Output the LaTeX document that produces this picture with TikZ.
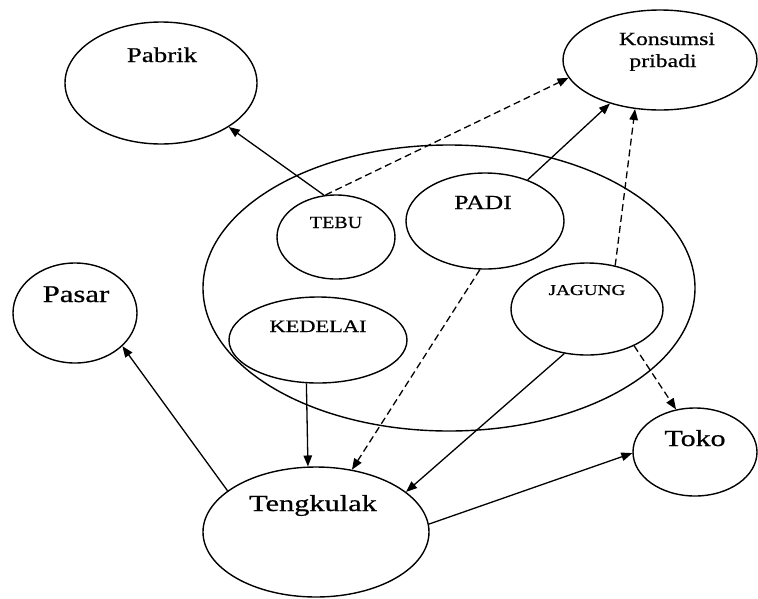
\documentclass[tikz,border=0pt]{standalone}
\usepackage{fontspec}
\setmainfont{Liberation Serif}
\newfontfamily\lblfont[FakeBold=0.6]{Liberation Serif}
\usetikzlibrary{arrows.meta,shapes.geometric}
\newcommand{\wtxt}[3]{\scalebox{#1}[1]{\lblfont\fontsize{#2}{#2}\selectfont #3}}
\begin{document}
\begin{tikzpicture}[x=1pt,y=-1pt,
  oval/.style 2 args={draw, ellipse, minimum width=#1, minimum height=#2, inner sep=0pt, line width=1.4pt},
  lbl/.style={inner sep=0pt, anchor=base},
  arr/.style={-{Triangle[length=11pt,width=8.5pt]}, line width=1.3pt},
  darr/.style={arr, dash pattern=on 7pt off 4pt}]
\useasboundingbox (0,0) rectangle (758,598);
% ellipses
\node[oval={492pt}{286pt}] (lahan) at (449,288) {};
\node[oval={192pt}{122pt}] (pabrik) at (161,83) {};
\node[oval={194pt}{100pt}] (kons) at (660,60) {};
\node[oval={118pt}{84pt}] (tebu) at (336,237) {};
\node[oval={158pt}{96pt}] (padi) at (485,221) {};
\node[oval={152pt}{92pt}] (jagung) at (587,309) {};
\node[oval={178pt}{86pt}] (kedelai) at (318,340) {};
\node[oval={124pt}{100pt}] (pasar) at (75,313) {};
\node[oval={226pt}{130pt}] (tengk) at (316,532) {};
\node[oval={124pt}{88pt}] (toko) at (695,452) {};
% texts
\node[lbl, xshift=1pt, yshift=21pt] (tPabrik) at (pabrik.center) {\wtxt{1.28}{21}{Pabrik}};
\node[lbl, xshift=7pt, yshift=15pt] (tKons) at (kons.center) {\wtxt{1.28}{18.5}{Konsumsi}};
\node[lbl, xshift=3pt, yshift=-7pt] (tPrib) at (kons.center) {\wtxt{1.28}{18.5}{pribadi}};
\node[lbl, yshift=9pt] (tTebu) at (tebu.center) {\wtxt{1.18}{17}{TEBU}};
\node[lbl, xshift=-2pt, yshift=12pt] (tPadi) at (padi.center) {\wtxt{1.28}{20}{PADI}};
\node[lbl, yshift=14pt] (tJagung) at (jagung.center) {\wtxt{1.28}{15}{JAGUNG}};
\node[lbl, yshift=8pt] (tKedelai) at (kedelai.center) {\wtxt{1.28}{17.5}{KEDELAI}};
\node[lbl, xshift=1pt, yshift=11pt] (tPasar) at (pasar.center) {\wtxt{1.28}{24}{Pasar}};
\node[lbl, xshift=-3pt, yshift=21pt] (tTengk) at (tengk.center) {\wtxt{1.32}{23}{Tengkulak}};
\node[lbl, yshift=6pt] (tToko) at (toko.center) {\wtxt{1.3}{23}{Toko}};
% connectors
\draw[arr] (tebu.106) -- (pabrik.-33);
\draw[darr] (tebu.104) -- (kons.191);
\draw[arr] (padi.44) -- (kons.-139);
\draw[darr] (jagung.57) -- (kons.-117);
\draw[darr] (padi.-96) -- (tengk.60);
\draw[arr] (kedelai.-105) -- (tengk.97);
\draw[arr] (jagung.-117) -- (tengk.24);
\draw[darr] (jagung.-38) -- (toko.114);
\draw[arr] (tengk.155) -- (pasar.-35);
\draw[arr] (tengk.4) -- (toko.-179);
\end{tikzpicture}
\end{document}
